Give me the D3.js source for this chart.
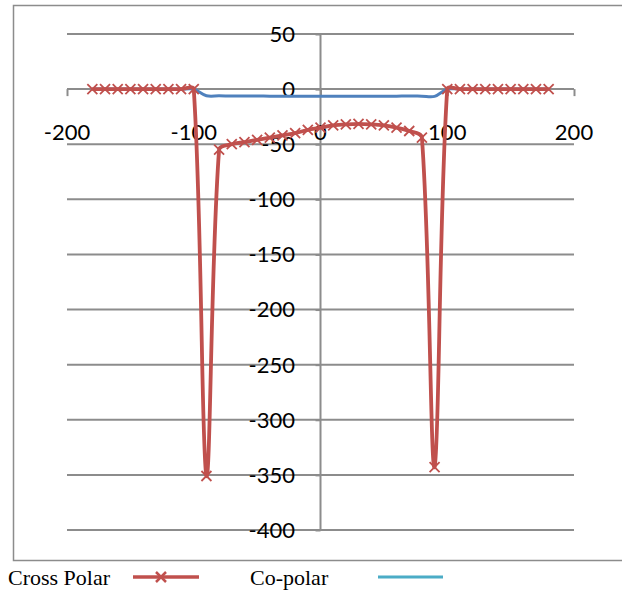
<!DOCTYPE html>
<html>
<head>
<meta charset="utf-8">
<script src="https://cdn.jsdelivr.net/npm/d3@7/dist/d3.min.js"></script>
<style>
  html, body { margin: 0; padding: 0; background: #fff; }
  svg { display: block; }
  .tick-label { font-family: Lato, "Liberation Sans", sans-serif; font-size: 22px; fill: #000; }
  .legend-label { font-family: "Liberation Serif", "Times New Roman", serif; font-size: 22px; fill: #000; }
</style>
</head>
<body>
<svg id="chart" width="622" height="592"></svg>
<script>
// Angle samples (degrees)
const angles = [
  -180, -170, -160, -150, -140, -130, -120, -110, -100, -90,
  -80, -70, -60, -50, -40, -30, -20, -10, 0, 10,
  20, 30, 40, 50, 60, 70, 80, 90, 100, 110,
  120, 130, 140, 150, 160, 170, 180
];

// Cross-polar level (dB)
const crossPolar = [
  0, 0, 0, 0, 0, 0, 0, 0, 0, -351,
  -55, -50, -48, -46, -44, -42, -40, -37, -35, -33,
  -32, -31.5, -32, -33, -35, -38, -44, -343, 0, 0,
  0, 0, 0, 0, 0, 0, 0
];

// Co-polar level (dB)
const coPolar = [
  0, 0, 0, 0, 0, 0, 0, 0, 0, -6,
  -6.1, -6.2, -6.3, -6.3, -6.4, -6.4, -6.5, -6.5, -6.5, -6.5,
  -6.5, -6.5, -6.4, -6.4, -6.4, -6.3, -6.4, -6.6, 0, 0,
  0, 0, 0, 0, 0, 0, 0
];

const xTicks = [-200, -100, 0, 100, 200];
const yTicks = [50, 0, -50, -100, -150, -200, -250, -300, -350, -400];

const seriesNames = ["Cross Polar", "Co-polar"];

const colors = {
  cross: "#C0504D",
  co: "#4F81BD",
  coLegend: "#4BACC6",
  grid: "#8C8C8C",
  frame: "#8C8C8C"
};

const svg = d3.select("#chart");

const x = d3.scaleLinear().domain([-200, 200]).range([67, 574]);
const y = d3.scaleLinear().domain([-400, 50]).range([530, 34]);

// Outer chart frame
svg.append("rect")
  .attr("x", 13.5).attr("y", 5.5)
  .attr("width", 620).attr("height", 555)
  .attr("fill", "none")
  .attr("stroke", colors.frame)
  .attr("stroke-width", 1.5);

// Horizontal gridlines
svg.append("g")
  .selectAll("line")
  .data(yTicks)
  .join("line")
  .attr("x1", x(-200)).attr("x2", x(200))
  .attr("y1", d => y(d)).attr("y2", d => y(d))
  .attr("stroke", colors.grid)
  .attr("stroke-width", 2);

// Vertical axis through x = 0
const yAxis = d3.axisLeft(y).tickValues(yTicks).tickSize(5).tickFormat("");
svg.append("g")
  .attr("transform", `translate(${x(0)},0)`)
  .call(yAxis)
  .call(g => g.select(".domain").remove())
  .call(g => g.selectAll("line").attr("stroke", colors.grid).attr("stroke-width", 2));
svg.append("line")
  .attr("x1", x(0)).attr("x2", x(0))
  .attr("y1", y(50)).attr("y2", y(-400))
  .attr("stroke", colors.grid).attr("stroke-width", 2);

// Horizontal axis through y = 0
const xAxis = d3.axisBottom(x).tickValues(xTicks).tickSize(7).tickFormat("");
svg.append("g")
  .attr("transform", `translate(0,${y(0)})`)
  .call(xAxis)
  .call(g => g.select(".domain").remove())
  .call(g => g.selectAll("line").attr("stroke", colors.grid).attr("stroke-width", 2));
svg.append("line")
  .attr("x1", x(-200)).attr("x2", x(200))
  .attr("y1", y(0)).attr("y2", y(0))
  .attr("stroke", colors.grid).attr("stroke-width", 2);

// Y tick labels
svg.append("g")
  .selectAll("text")
  .data(yTicks)
  .join("text")
  .attr("class", "tick-label")
  .attr("x", 295)
  .attr("y", d => y(d))
  .attr("dy", "0.36em")
  .attr("text-anchor", "end")
  .text(d => d);

// X tick labels
svg.append("g")
  .selectAll("text")
  .data(xTicks)
  .join("text")
  .attr("class", "tick-label")
  .attr("x", d => x(d))
  .attr("y", y(0) + 51)
  .attr("text-anchor", "middle")
  .text(d => d);

// Smoothed path: cubic Bezier segments whose handles follow the neighbour
// chord and are weighted by the adjacent segment lengths, so short segments
// next to long drops get short handles.
function smoothPath(pts) {
  const p = d3.path();
  const n = pts.length;
  const dist = (a, b) => Math.hypot(b[0] - a[0], b[1] - a[1]);
  const handles = pts.map((pt, i) => {
    if (i === 0 || i === n - 1) return { inn: pt, out: pt };
    const prev = pts[i - 1], next = pts[i + 1];
    const d0 = dist(prev, pt), d1 = dist(pt, next);
    const s = d0 + d1 || 1;
    const tx = next[0] - prev[0], ty = next[1] - prev[1];
    return {
      inn: [pt[0] - tx * d0 / (3 * s), pt[1] - ty * d0 / (3 * s)],
      out: [pt[0] + tx * d1 / (3 * s), pt[1] + ty * d1 / (3 * s)]
    };
  });
  p.moveTo(pts[0][0], pts[0][1]);
  for (let i = 1; i < n; i++) {
    const c1 = handles[i - 1].out, c2 = handles[i].inn;
    p.bezierCurveTo(c1[0], c1[1], c2[0], c2[1], pts[i][0], pts[i][1]);
  }
  return p.toString();
}

const coData = angles.map((a, i) => [a, coPolar[i]]);
const crossData = angles.map((a, i) => [a, crossPolar[i]]);
const project = data => data.map(d => [x(d[0]), y(d[1])]);

// Co-polar trace
svg.append("path")
  .attr("d", smoothPath(project(coData)))
  .attr("fill", "none")
  .attr("stroke", colors.co)
  .attr("stroke-width", 3)
  .attr("stroke-linejoin", "round");

// Cross-polar trace
svg.append("path")
  .attr("d", smoothPath(project(crossData)))
  .attr("fill", "none")
  .attr("stroke", colors.cross)
  .attr("stroke-width", 3.8)
  .attr("stroke-linejoin", "round");

// X-shaped markers
const cross = (cx, cy, r) => `M${cx - r},${cy - r}L${cx + r},${cy + r}M${cx - r},${cy + r}L${cx + r},${cy - r}`;
svg.append("g")
  .selectAll("path")
  .data(crossData)
  .join("path")
  .attr("d", d => cross(x(d[0]), y(d[1]), 5))
  .attr("stroke", colors.cross)
  .attr("stroke-width", 1.8)
  .attr("fill", "none");

// Legend
const legend = svg.append("g");
legend.append("text").attr("class", "legend-label")
  .attr("x", 8).attr("y", 585).text(seriesNames[0]);
legend.append("line")
  .attr("x1", 133).attr("x2", 199).attr("y1", 577).attr("y2", 577)
  .attr("stroke", colors.cross).attr("stroke-width", 3.5);
legend.append("path")
  .attr("d", cross(161, 577, 5))
  .attr("stroke", colors.cross).attr("stroke-width", 2.5).attr("fill", "none");
legend.append("text").attr("class", "legend-label")
  .attr("x", 250).attr("y", 585).text(seriesNames[1]);
legend.append("line")
  .attr("x1", 378).attr("x2", 443).attr("y1", 577).attr("y2", 577)
  .attr("stroke", colors.coLegend).attr("stroke-width", 3);
</script>
</body>
</html>
